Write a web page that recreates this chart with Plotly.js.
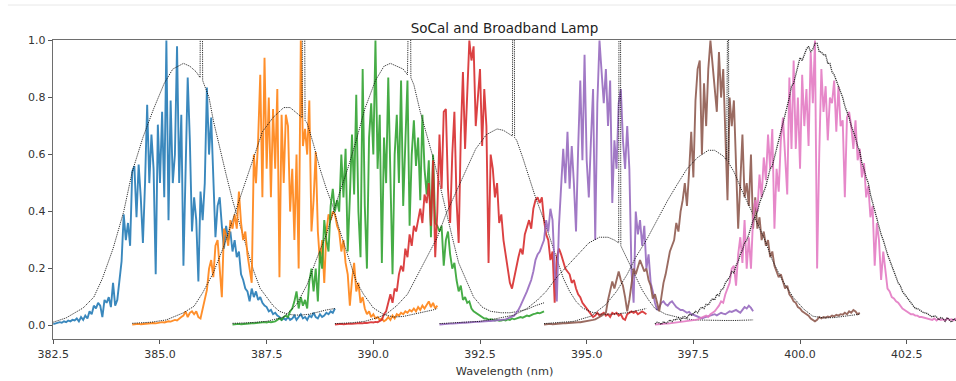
<!DOCTYPE html>
<html>
<head>
<meta charset="utf-8">
<script src="https://cdn.plot.ly/plotly-3.0.1.min.js"></script>
<style>
html,body{margin:0;padding:0;background:#ffffff;overflow:hidden;}
#chart{width:956px;height:381px;}
</style>
</head>
<body>
<div id="chart"></div>
<script>
// ---------------- data ----------------
const chartTitle = 'SoCal and Broadband Lamp';
const xAxisLabel = 'Wavelength (nm)';
const xTickValues = [382.5, 385.0, 387.5, 390.0, 392.5, 395.0, 397.5, 400.0, 402.5];
const yTickValues = [0.0, 0.2, 0.4, 0.6, 0.8, 1.0];

// SoCal spectra: uniformly sampled, first wavelength + sample step (nm)
const socalStart = [382.5, 384.35, 386.7, 389.1, 391.55, 394.0, 396.6];
const socalStep = 0.05;

const socalBlue = [
.005,.008,.01,.012,.01,.015,.012,.018,.015,.02,
.018,.025,.015,.03,.02,.035,.025,.05,.04,.07,
.06,.08,.07,.03,.09,.08,.1,.065,.15,.07,
.09,.15,.225,.39,.3,.36,.28,.54,.56,.38,
.565,.45,.29,.5,.775,.5,.67,.55,.18,.705,
.5,.75,.45,1.0,.37,.79,.5,.6,.98,.5,
.74,.21,.6,.87,.65,.33,.45,.37,.155,.47,
.37,.5,.835,.6,.73,.5,.31,.42,.45,.35,
.27,.35,.3,.33,.26,.3,.24,.26,.18,.16,
.13,.12,.085,.13,.1,.12,.09,.1,.08,.07,
.065,.05,.055,.04,.045,.035,.03,.02,.025,.02,
.03,.02,.025,.035,.02,.03,.04,.025,.03,.02,
.035,.03,.045,.03,.025,.04,.03,.035,.045,.04,
.05,.045,.06];

const socalOrange = [
.004,.005,.005,.006,.005,.006,.007,.006,.008,.008,
.009,.008,.01,.01,.012,.011,.013,.015,.014,.018,
.02,.018,.025,.03,.035,.05,.03,.045,.05,.04,
.05,.03,.025,.06,.085,.125,.2,.23,.17,.28,
.3,.2,.1,.34,.32,.28,.37,.34,.39,.34,
.47,.36,.3,.33,.25,.2,.15,.6,.5,.65,
.88,.45,.94,.55,.8,.45,.76,.55,.83,.17,
.74,.5,.74,.7,.4,.55,.3,.6,.2,1.0,
.63,.69,.6,.79,.33,.44,.61,.33,.22,.3,
.15,.33,.39,.37,.4,.39,.35,.33,.26,.3,
.22,.18,.07,.16,.22,.12,.15,.08,.1,.06,
.04,.05,.03,.04,.025,.03,.02,.025,.015,.02,
.03,.02,.035,.025,.04,.035,.045,.04,.05,.045,
.055,.05,.06,.05,.065,.055,.07,.06,.075,.085,
.065,.08,.06,.07];

const socalGreen = [
.004,.005,.005,.006,.005,.006,.007,.006,.007,.008,
.008,.009,.01,.009,.011,.012,.011,.013,.012,.014,
.015,.02,.025,.02,.03,.035,.03,.05,.06,.085,
.12,.06,.1,.07,.09,.06,.155,.2,.12,.2,
.085,.26,.2,.37,.3,.26,.42,.48,.4,.44,
.4,.6,.45,.62,.26,.45,.67,.46,.81,.4,
.24,.9,.42,.2,.66,.78,.6,1.0,.55,.74,
.22,.66,.5,.87,.55,.18,.6,.74,.5,.86,
.42,.62,.86,.35,.6,.72,.56,.66,.44,.74,
.55,.46,.58,.31,.6,.36,.35,.33,.35,.21,
.3,.33,.25,.2,.22,.16,.12,.14,.09,.1,
.08,.085,.06,.05,.045,.04,.035,.03,.025,.025,
.02,.022,.02,.018,.02,.017,.018,.02,.018,.022,
.02,.025,.022,.025,.028,.03,.028,.032,.035,.033,
.038,.04,.042,.045,.043,.048,.05];

const socalRed = [
.004,.005,.004,.006,.005,.006,.005,.007,.006,.007,
.008,.007,.009,.008,.01,.009,.011,.012,.011,.013,
.012,.015,.02,.04,.05,.08,.11,.08,.13,.12,
.18,.21,.19,.27,.24,.32,.28,.35,.33,.37,
.41,.36,.46,.43,.5,.35,.58,.24,.4,.67,
.48,.75,.76,.48,.36,.6,.75,.44,.29,.67,
.89,.62,.8,1.0,.93,.98,.7,.8,.9,.63,
.83,.7,.22,.6,.55,.45,.5,.36,.39,.3,
.25,.2,.15,.13,.17,.2,.24,.27,.25,.32,
.35,.37,.34,.41,.44,.45,.43,.45,.37,.32,
.3,.23,.26,.08,.24,.27,.25,.22,.2,.19,
.18,.15,.16,.13,.11,.1,.08,.07,.06,.05,
.04,.03,.035,.045,.035,.04,.045,.035,.04,.03,
.045,.04,.045,.035,.04,.025,.02,.04,.045,.05,
.045,.05,.04,.045,.05,.045,.04];

const socalPurple = [
.004,.005,.005,.006,.006,.007,.007,.008,.008,.009,
.009,.01,.01,.011,.011,.012,.012,.013,.013,.014,
.014,.015,.015,.016,.016,.017,.018,.018,.019,.02,
.02,.022,.025,.028,.03,.035,.045,.055,.07,.085,
.1,.12,.14,.16,.19,.23,.25,.26,.28,.3,
.37,.33,.41,.37,.2,.085,.35,.5,.62,.5,
.68,.48,.63,.5,.33,.62,.86,.58,.95,.58,
.45,.65,.83,.3,.78,1.0,.9,.78,.9,.7,
.86,.43,.65,.55,.78,.83,.65,.55,.7,.55,
.19,.08,.4,.32,.37,.28,.35,.2,.25,.15,
.12,.08,.055,.065,.08,.085,.075,.07,.08,.085,
.075,.065,.06,.055,.055,.05,.045,.048,.04,.038,
.035,.03,.028,.025,.028,.03,.033,.035,.038,.04,
.036,.04,.045,.042,.04,.045,.05,.048,.052,.055,
.05,.045,.055,.065,.06,.07,.062,.05];

const socalBrown = [
.004,.005,.005,.006,.005,.006,.006,.007,.007,.008,
.008,.009,.009,.01,.01,.011,.012,.012,.013,.014,
.015,.016,.018,.02,.022,.025,.03,.035,.04,.045,
.09,.12,.155,.13,.16,.19,.16,.14,.1,.05,
.09,.155,.2,.18,.21,.23,.21,.19,.2,.16,
.14,.095,.11,.08,.05,.1,.15,.18,.22,.26,
.28,.3,.36,.33,.4,.44,.5,.42,.54,.68,
.52,.79,.9,.93,.6,.85,.7,.9,1.0,.92,
.85,.75,.96,.8,.9,.7,.44,.8,.7,.79,
.55,.34,.5,.67,.45,.5,.42,.6,.34,.45,
.34,.38,.3,.33,.28,.3,.24,.26,.21,.19,
.17,.18,.15,.13,.14,.11,.1,.085,.08,.065,
.06,.05,.045,.04,.035,.025,.02,.015,.02,.03,
.025,.03,.028,.032,.03,.035,.032,.038,.035,.04,
.038,.045,.04,.05,.045,.055,.05,.04,.045];

const socalPink = [
.004,.005,.005,.006,.006,.007,.007,.008,.008,.009,
.01,.01,.011,.012,.013,.014,.015,.016,.018,.02,
.022,.025,.028,.03,.035,.03,.04,.045,.05,.06,
.07,.085,.08,.11,.13,.15,.2,.21,.14,.25,
.31,.22,.37,.2,.31,.2,.38,.44,.4,.53,
.45,.59,.51,.67,.55,.69,.34,.55,.47,.65,
.73,.57,.46,.87,.62,.93,.62,.8,.55,.88,
.7,.83,.63,.96,.78,1.0,.2,.6,.9,.75,
.84,.65,.8,.78,.86,.68,.84,.7,.72,.45,
.73,.75,.7,.62,.72,.58,.62,.52,.57,.45,
.49,.38,.42,.21,.36,.3,.16,.26,.2,.13,
.12,.1,.095,.085,.08,.07,.06,.055,.05,.045,
.04,.04,.035,.035,.03,.03,.028,.025,.025,.022,
.02,.025,.018,.024,.02,.022,.018,.025,.02,.022,
.018,.024,.02,.022];

// Broadband lamp curves (normalised), with the bright emission spike
const lamp1Wl = [382.5,382.8,383.2,383.45,383.65,383.9,384.15,384.35,384.6,384.85,385.1,385.3,385.55,385.7,385.85,385.94,385.955,385.985,386.0,386.05,386.15,386.25,386.4,386.55,386.7,386.9,387.05,387.2,387.35,387.5,387.65,387.8,388.0,388.15,388.3,388.5,388.7,388.9,389.1];
const lamp1Val = [.012,.027,.062,.1,.165,.27,.4,.54,.66,.76,.85,.9,.92,.91,.89,.87,1.5,1.5,.86,.84,.8,.72,.62,.53,.44,.34,.26,.19,.13,.1,.07,.05,.04,.037,.037,.04,.048,.055,.06];

const lamp2Wl = [384.35,384.8,385.15,385.55,385.8,386.0,386.25,386.5,386.7,386.95,387.2,387.4,387.65,387.9,388.05,388.2,388.33,388.35,388.38,388.4,388.45,388.6,388.75,388.9,389.05,389.2,389.35,389.5,389.6,389.77,390.0,390.23,390.47,390.7,390.95,391.17,391.4,391.5];
const lamp2Val = [.008,.012,.02,.045,.068,.115,.185,.28,.37,.48,.59,.68,.73,.765,.765,.745,.73,1.5,1.5,.72,.71,.635,.55,.48,.42,.34,.27,.2,.155,.11,.062,.04,.03,.032,.04,.045,.055,.06];

const lamp3Wl = [386.7,387.1,387.5,387.9,388.2,388.45,388.65,388.9,389.15,389.4,389.6,389.8,390.05,390.25,390.4,390.55,390.7,390.8,390.83,390.86,390.88,390.95,391.1,391.25,391.4,391.55,391.7,391.85,392.0,392.2,392.35,392.55,392.75,393.0,393.2,393.4,393.6,393.8,394.0];
const lamp3Val = [.008,.01,.015,.03,.074,.144,.226,.32,.44,.55,.65,.76,.86,.91,.92,.91,.9,.88,1.5,1.5,.87,.845,.75,.67,.59,.5,.4,.31,.22,.15,.1,.065,.05,.045,.045,.05,.057,.07,.08];

const lamp4Wl = [389.1,389.5,389.8,390.1,390.3,390.55,390.8,391.0,391.25,391.5,391.7,391.95,392.2,392.4,392.65,392.9,393.05,393.2,393.26,393.27,393.3,393.31,393.36,393.5,393.65,393.8,394.0,394.15,394.3,394.45,394.6,394.75,394.9,395.1,395.3,395.6,395.95,396.25,396.4];
const lamp4Val = [.007,.01,.015,.028,.04,.07,.11,.167,.24,.31,.39,.47,.55,.62,.67,.69,.685,.67,.665,1.5,1.5,.66,.65,.59,.52,.45,.37,.3,.23,.167,.12,.085,.062,.048,.04,.04,.045,.055,.06];

const lamp5Wl = [391.55,392.0,392.5,392.9,393.3,393.6,393.85,394.05,394.3,394.55,394.8,395.05,395.3,395.5,395.65,395.75,395.76,395.79,395.8,395.9,396.0,396.15,396.3,396.45,396.6,396.85,397.2,397.5,397.85,398.2,398.5,398.9];
const lamp5Val = [.007,.01,.015,.025,.037,.06,.09,.12,.17,.21,.25,.29,.31,.31,.3,.29,1.5,1.5,.28,.25,.215,.17,.125,.09,.06,.04,.027,.02,.018,.018,.018,.02];

const lamp6Wl = [394.0,394.7,395.1,395.45,395.7,395.95,396.15,396.4,396.65,396.9,397.1,397.35,397.6,397.85,398.0,398.2,398.28,398.29,398.32,398.33,398.45,398.65,398.9,399.15,399.35,399.6,399.85,400.1,400.3,400.55,400.8,401.1,401.4];
const lamp6Val = [.007,.015,.033,.074,.12,.18,.24,.3,.37,.44,.49,.55,.59,.615,.615,.595,.58,1.5,1.5,.57,.54,.47,.39,.31,.23,.155,.097,.056,.033,.027,.028,.035,.04];

const lamp7Start = 396.6;
const lamp7Step = 0.05;
const lamp7Val = [
.006,.012,.01,.004,.014,.008,.012,.02,.014,.022,
.02,.028,.018,.03,.032,.026,.04,.036,.042,.05,
.045,.058,.065,.06,.075,.072,.085,.095,.09,.11,
.105,.125,.13,.15,.16,.17,.19,.185,.21,.225,
.25,.265,.29,.3,.32,.345,.37,.38,.4,.43,
.45,.47,.49,.52,.55,.56,.59,.63,.66,.68,
.71,.745,.78,.8,.84,.85,.88,.915,.94,.93,
.95,.97,.98,.96,.97,.99,.99,.96,.96,.95,
.95,.92,.92,.89,.88,.86,.84,.82,.8,.77,
.75,.73,.7,.68,.66,.63,.61,.57,.55,.52,
.5,.46,.43,.41,.38,.35,.32,.3,.27,.25,
.23,.21,.19,.17,.15,.14,.12,.11,.1,.09,
.08,.07,.06,.06,.055,.05,.045,.045,.04,.035,
.03,.035,.03,.02,.028,.025,.015,.028,.02,.012,
.025,.018,.012];

// ---------------- styling ----------------
const lineColors = ['#1f77b4','#ff7f0e','#2ca02c','#d62728','#9467bd','#8c564b','#e377c2'];
const socalSeries = [socalBlue, socalOrange, socalGreen, socalRed, socalPurple, socalBrown, socalPink];
const lampWl = [lamp1Wl, lamp2Wl, lamp3Wl, lamp4Wl, lamp5Wl, lamp6Wl];
const lampVal = [lamp1Val, lamp2Val, lamp3Val, lamp4Val, lamp5Val, lamp6Val];

const lampLine = {color:'rgba(10,10,10,0.85)', width:1.0, dash:'1.2px,1px'};
const traces = [];
for (let i = 0; i < socalSeries.length; i++) {
  traces.push({
    type:'scatter', mode:'lines',
    x0: socalStart[i], dx: socalStep, y: socalSeries[i],
    line:{color: lineColors[i], width:1.9},
    opacity:0.88, hoverinfo:'skip'
  });
  if (i < lampWl.length) {
    traces.push({type:'scatter', mode:'lines', x: lampWl[i], y: lampVal[i],
      line: lampLine, hoverinfo:'skip'});
  } else {
    traces.push({type:'scatter', mode:'lines', x0: lamp7Start, dx: lamp7Step, y: lamp7Val,
      line:{color:'rgba(10,10,10,0.85)', width:1.3, dash:'1.2px,0.8px'}, hoverinfo:'skip'});
  }
}

const fontFam = '"DejaVu Sans", Verdana, sans-serif';
const layout = {
  width:956, height:381,
  margin:{l:53, r:0, t:40, b:42, pad:0},
  paper_bgcolor:'#ffffff', plot_bgcolor:'#ffffff',
  showlegend:false,
  font:{family:fontFam, color:'#333'},
  title:{text:chartTitle, xref:'paper', x:0.5, xanchor:'center',
         yref:'container', y:1-28.5/381, yanchor:'middle',
         font:{family:fontFam, size:13.5, color:'#222'}},
  xaxis:{
    range:[382.493, 403.655],
    tickmode:'array', tickvals:xTickValues, ticktext:xTickValues.map(v=>v.toFixed(1)),
    ticks:'outside', ticklen:4, tickwidth:1, tickcolor:'#555',
    showline:true, linecolor:'#6e6e6e', linewidth:1.3, mirror:true,
    showgrid:false, zeroline:false,
    tickfont:{family:fontFam, size:11, color:'#333'},
    title:{text:xAxisLabel, standoff:7, font:{family:fontFam, size:11.3, color:'#333'}}
  },
  yaxis:{
    range:[-0.047, 1.002],
    tickmode:'array', tickvals:yTickValues, ticktext:yTickValues.map(v=>v.toFixed(1)),
    ticks:'outside', ticklen:4, tickwidth:1, tickcolor:'#555',
    showline:true, linecolor:'#6e6e6e', linewidth:1.3,
    showgrid:false, zeroline:false,
    tickfont:{family:fontFam, size:11, color:'#333'}
  },
  shapes:[{type:'line', xref:'paper', yref:'paper', x0:-0.05, x1:1.0, y0:1.117, y1:1.117,
           line:{color:'#e8e8e8', width:1}}]
};

Plotly.newPlot('chart', traces, layout, {staticPlot:true, displayModeBar:false});
</script>
</body>
</html>
